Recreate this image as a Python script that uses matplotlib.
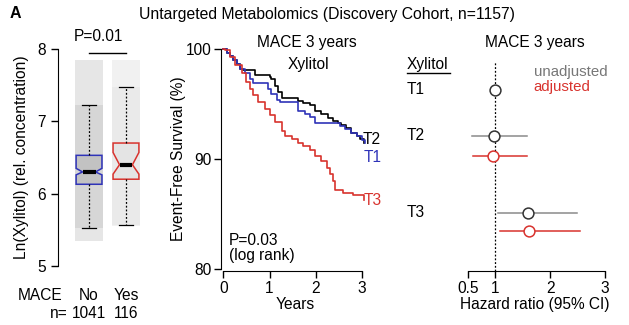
import numpy as np
import matplotlib
matplotlib.use("Agg")
import matplotlib.pyplot as plt
from matplotlib.transforms import blended_transform_factory

plt.rcParams['font.family'] = ['Liberation Sans', 'DejaVu Sans']
plt.rcParams['font.size'] = 11

W, H = 629, 325
FS = 11.2
BLUE = '#2f33b8'
RED = '#d8332e'
GRAY = '#777777'

# ---- box plot data (Ln xylitol) ----
groups = ['No', 'Yes']
group_n = [1041, 116]
q1 = [6.13, 6.20]
med = [6.30, 6.40]
q3 = [6.53, 6.70]
whislo = [5.53, 5.57]
whishi = [7.22, 7.48]
notch_lo = [6.26, 6.27]
notch_hi = [6.35, 6.57]
cloud_lo = [5.35, 5.55]
cloud_hi = [7.85, 7.85]
box_p = 'P=0.01'

# ---- Kaplan-Meier curves (years, % event-free) ----
t1_t = [0, 0.07, 0.14, 0.22, 0.29, 0.36, 0.47, 0.58, 0.65, 0.97, 1.04, 1.15, 1.22,
        1.62, 1.76, 1.87, 1.98, 2.52, 2.63, 2.77, 2.88, 2.99, 3.06]
t1_s = [100, 99.7, 99.4, 99.0, 98.7, 98.2, 97.8, 97.3, 96.9, 96.4, 95.95, 95.4, 95.2,
        94.4, 94.1, 93.8, 93.3, 93.0, 92.7, 92.4, 92.1, 91.7, 91.5]
t2_t = [0, 0.07, 0.14, 0.22, 0.29, 0.36, 0.43, 0.68, 1.01, 1.04, 1.12, 1.19, 1.26,
        1.62, 1.73, 1.87, 1.98, 2.12, 2.27, 2.37, 2.48, 2.55, 2.66, 2.77, 2.88, 2.95, 3.04]
t2_s = [100, 99.7, 99.4, 99.0, 98.7, 98.2, 98.1, 97.7, 97.5, 97.3, 96.7, 96.1, 95.6,
        95.3, 95.1, 94.9, 94.4, 94.1, 93.7, 93.5, 93.3, 93.1, 92.8, 92.4, 92.1, 91.8, 91.5]
t3_t = [0, 0.04, 0.14, 0.25, 0.40, 0.50, 0.58, 0.65, 0.76, 0.90, 1.01, 1.12, 1.26,
        1.33, 1.48, 1.62, 1.73, 1.87, 1.98, 2.12, 2.23, 2.30, 2.37, 2.41, 2.59, 2.81, 3.03]
t3_s = [100, 99.9, 99.3, 98.6, 97.8, 97.0, 96.4, 95.8, 95.2, 94.6, 94.0, 93.4, 92.6,
        92.1, 91.8, 91.5, 91.2, 90.8, 90.3, 89.8, 89.2, 88.6, 88.0, 87.2, 86.9, 86.7, 86.3]
km_p = 'P=0.03\n(log rank)'

# ---- forest plot (hazard ratio, 95% CI) ----
tertiles = ['T1', 'T2', 'T3']
hr_unadj = [1.0, 0.97, 1.59]
lo_unadj = [np.nan, 0.58, 1.05]
hi_unadj = [np.nan, 1.57, 2.48]
hr_adj = [np.nan, 0.96, 1.62]
lo_adj = [np.nan, 0.59, 1.08]
hi_adj = [np.nan, 1.57, 2.55]
# layout: vertical row positions (unadjusted / adjusted) per tertile
row_unadj = [0, 1.0, 2.67]
row_adj = [np.nan, 1.43, 3.06]


def px(x, y):
    return x / W, 1 - y / H


def add_ax(left, top, right, bottom):
    return fig.add_axes([left / W, 1 - bottom / H, (right - left) / W, (bottom - top) / H])


fig = plt.figure(figsize=(W / 100, H / 100), dpi=100)

fig.text(*px(10, 14), 'A', fontweight='bold', fontsize=11.5, va='center', ha='left')
fig.text(*px(327, 14), 'Untargeted Metabolomics (Discovery Cohort, n=1157)',
         fontsize=11.3, va='center', ha='center')

# ================= box plot =================
ax = add_ax(58, 49, 150, 266)
xs = np.arange(1, len(groups) + 1)
# faint bands standing in for the jittered point clouds
ax.bar(xs, np.array(cloud_hi) - np.array(cloud_lo), bottom=cloud_lo, width=0.76,
       color=['#e6e6e6', '#f1f1f1'], zorder=1)
ax.bar(xs, np.array(whishi) - np.array(whislo), bottom=whislo, width=0.76,
       color=['#d6d6d6', '#eaeaea'], zorder=1)
stats = []
for i in range(len(groups)):
    stats.append(dict(med=med[i], q1=q1[i], q3=q3[i], whislo=whislo[i], whishi=whishi[i],
                      cilo=notch_lo[i], cihi=notch_hi[i], fliers=[]))
bp = ax.bxp(stats, positions=xs, widths=0.7, shownotches=True, patch_artist=True,
            showfliers=False, capwidths=0.36,
            whiskerprops=dict(linestyle=(0, (1.5, 1.5)), color='black', lw=0.9),
            capprops=dict(color='black', lw=0.9),
            medianprops=dict(color='black', lw=3))
for patch, ec, fc in zip(bp['boxes'], [BLUE, RED], ['#c2c2c2', '#e4e4e4']):
    patch.set_facecolor(fc)
    patch.set_edgecolor(ec)
    patch.set_linewidth(1.1)
    patch.set_zorder(2)
ax.set_xlim(0.16, 2.65)
ax.set_ylim(5, 8)
ax.set_yticks([5, 6, 7, 8])
ax.set_xticks([])
for s in ['top', 'right', 'bottom']:
    ax.spines[s].set_visible(False)
ax.tick_params(axis='y', length=5, width=1, labelsize=FS)
ax.set_ylabel('Ln(Xylitol) (rel. concentration)', fontsize=FS, labelpad=6)
ax.plot([1, 2], [7.95, 7.95], color='black', lw=1, clip_on=False)
ax.text(1.25, 8.17, box_p, ha='center', va='center', fontsize=FS)
tr = blended_transform_factory(ax.transData, fig.transFigure)
fy = lambda y: 1 - y / H
fig.text(*px(40, 295), 'MACE', ha='center', va='center', fontsize=FS)
fig.text(*px(68, 313), 'n=', ha='right', va='center', fontsize=FS)
for i, g in enumerate(groups):
    ax.text(xs[i], fy(295), g, transform=tr, ha='center', va='center', fontsize=FS)
    ax.text(xs[i], fy(313), str(group_n[i]), transform=tr, ha='center', va='center',
            fontsize=FS)

# ================= Kaplan-Meier =================
ax2 = add_ax(221, 46, 370, 271)
ax2.step(t2_t, t2_s, where='post', color='black', lw=1.2)
ax2.step(t1_t, t1_s, where='post', color=BLUE, lw=1.2)
ax2.step(t3_t, t3_s, where='post', color=RED, lw=1.2)
ax2.text(3.02, 91.8, 'T2', color='black', ha='left', va='center', fontsize=FS)
ax2.text(3.04, 90.1, 'T1', color=BLUE, ha='left', va='center', fontsize=FS)
ax2.text(3.03, 86.2, 'T3', color=RED, ha='left', va='center', fontsize=FS)
ax2.text(0.12, 80.5, km_p, ha='left', va='bottom', fontsize=FS, linespacing=1.05)
ax2.text(1.85, 98.6, 'Xylitol', ha='center', va='center', fontsize=FS)
ax2.set_xlim(-0.05, 3.17)
ax2.set_ylim(79.8, 100.3)
ax2.set_xticks([0, 1, 2, 3])
ax2.set_yticks([80, 90, 100])
for s in ['top', 'right']:
    ax2.spines[s].set_visible(False)
ax2.spines['left'].set_bounds(80, 100)
ax2.spines['bottom'].set_bounds(0, 3)
ax2.tick_params(length=5, width=1, labelsize=FS, pad=2)
ax2.set_xlabel('Years', fontsize=FS, labelpad=1)
ax2.set_ylabel('Event-Free Survival (%)', fontsize=FS, labelpad=0)
fig.text(*px(307, 42), 'MACE 3 years', ha='center', va='center', fontsize=FS)

# ================= forest plot =================
ax3 = add_ax(460, 49, 610, 271)
ax3.set_xlim(0.354, 3.09)
ax3.set_ylim(3.935, -0.891)
ax3.axvline(1, ymin=0, ymax=0.94, color='black', lw=0.9, linestyle=(0, (1.5, 1.5)))
for i in range(len(tertiles)):
    if not np.isnan(lo_unadj[i]):
        ax3.plot([lo_unadj[i], hi_unadj[i]], [row_unadj[i]] * 2, color='#8a8a8a', lw=1.1)
    ax3.plot(hr_unadj[i], row_unadj[i], 'o', ms=7.8, mfc='white', mec='#333333', mew=1.1)
    if not np.isnan(hr_adj[i]):
        ax3.plot([lo_adj[i], hi_adj[i]], [row_adj[i]] * 2, color=RED, lw=1.1)
        ax3.plot(hr_adj[i], row_adj[i], 'o', ms=7.8, mfc='white', mec=RED, mew=1.1)
trf = blended_transform_factory(fig.transFigure, ax3.transData)
for i, t in enumerate(tertiles):
    ax3.text(407 / W, row_unadj[i], t, transform=trf, ha='left', va='center', fontsize=FS)
ax3.text(407 / W, -0.56, 'Xylitol', transform=trf, ha='left', va='center', fontsize=FS)
ax3.plot([407 / W, 450 / W], [-0.37, -0.37], transform=trf, color='black', lw=1,
         clip_on=False)
ax3.text(1.70, -0.39, 'unadjusted', color=GRAY, ha='left', va='center', fontsize=10.8)
ax3.text(1.70, -0.06, 'adjusted', color=RED, ha='left', va='center', fontsize=10.8)
ax3.set_xticks([0.5, 1, 2, 3])
ax3.set_xticklabels(['0.5', '1', '2', '3'])
ax3.set_yticks([])
for s in ['top', 'right', 'left']:
    ax3.spines[s].set_visible(False)
ax3.spines['bottom'].set_bounds(0.5, 3)
ax3.tick_params(length=5, width=1, labelsize=FS, pad=2)
ax3.set_xlabel('Hazard ratio (95% CI)', fontsize=FS, labelpad=1)
fig.text(*px(535, 42), 'MACE 3 years', ha='center', va='center', fontsize=FS)

fig.savefig('out.png', dpi=100)
